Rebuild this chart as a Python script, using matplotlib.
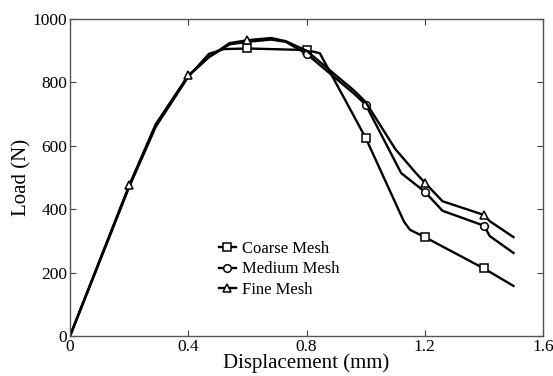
import matplotlib
matplotlib.use('Agg')
import matplotlib.pyplot as plt

# dados
coarse_x = [0, 0.2, 0.29, 0.4, 0.47, 0.52, 0.6, 0.8, 0.845, 1.0, 1.13, 1.15, 1.2, 1.4, 1.5]
coarse_y = [0, 470, 660, 818, 890, 905, 907, 902, 892, 625, 360, 335, 312, 213, 158]
coarse_marks = [6, 7, 9, 12, 13]

medium_x = [0, 0.2, 0.29, 0.4, 0.47, 0.54, 0.6, 0.68, 0.73, 0.8, 0.96, 1.0, 1.12, 1.2, 1.26, 1.4, 1.42, 1.5]
medium_y = [0, 472, 665, 820, 880, 920, 928, 935, 928, 890, 765, 730, 514, 455, 395, 348, 315, 262]
medium_marks = [9, 11, 13, 15]

fine_x = [0, 0.2, 0.29, 0.4, 0.47, 0.54, 0.6, 0.68, 0.73, 0.8, 0.96, 1.0, 1.1, 1.17, 1.2, 1.26, 1.4, 1.42, 1.5]
fine_y = [0, 475, 668, 822, 880, 924, 933, 940, 930, 900, 775, 738, 590, 514, 484, 425, 382, 362, 312]
fine_marks = [1, 3, 6, 14, 16]

xticks = [0, 0.4, 0.8, 1.2, 1.6]
xlabels = ['0', '0.4', '0.8', '1.2', '1.6']
yticks = [0, 200, 400, 600, 800, 1000]

plt.rcParams['font.family'] = ['Liberation Serif', 'DejaVu Serif']

fig = plt.figure(figsize=(5.53, 3.76), dpi=100)
ax = fig.add_axes([0.1266, 0.1064, 0.8554, 0.8431])

estilo = dict(color='black', lw=1.7, markersize=5.5, markerfacecolor='white',
              markeredgecolor='black', markeredgewidth=1.1)
ax.plot(coarse_x, coarse_y, marker='s', markevery=coarse_marks, label='Coarse Mesh', **estilo)
ax.plot(medium_x, medium_y, marker='o', markevery=medium_marks, label='Medium Mesh', **estilo)
ax.plot(fine_x, fine_y, marker='^', markevery=fine_marks, label='Fine Mesh', **estilo)

ax.set_xlim(0, 1.6)
ax.set_ylim(0, 1000)
ax.set_xticks(xticks)
ax.set_xticklabels(xlabels)
ax.set_yticks(yticks)
ax.tick_params(direction='in', top=True, right=True, labelsize=12.5, length=4, pad=2, color='#444444')
for s in ax.spines.values():
    s.set_color('#555555')
    s.set_linewidth(1.0)

ax.set_xlabel('Displacement (mm)', fontsize=15, labelpad=-1)
ax.set_ylabel('Load (N)', fontsize=15, labelpad=1)

ax.legend(loc='upper left', bbox_to_anchor=(0.297, 0.325), frameon=False, fontsize=12,
          handlelength=1.0, handletextpad=0.4, labelspacing=0.25, borderpad=0)

fig.savefig('out.png', dpi=100)
